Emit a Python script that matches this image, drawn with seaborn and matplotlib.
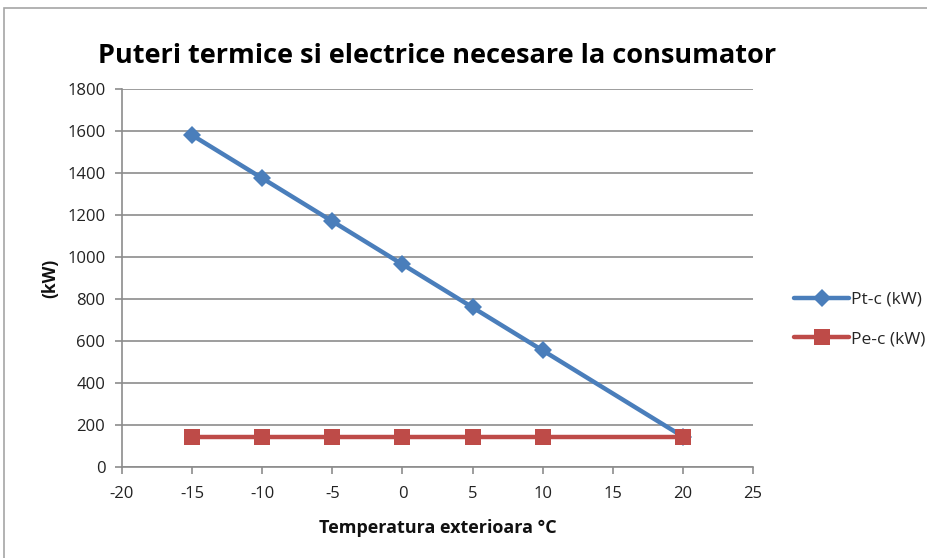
import matplotlib
matplotlib.use("Agg")
import matplotlib.pyplot as plt
import seaborn as sns
import pandas as pd
from matplotlib.patches import Rectangle

temps = [-15, -10, -5, 0, 5, 10, 20]
pt_c = [1580, 1375, 1170, 965, 760, 555, 145]
pe_c = [145, 145, 145, 145, 145, 145, 145]
series_names = ["Pt-c (kW)", "Pe-c (kW)"]
title = "Puteri termice si electrice necesare la consumator"
xlabel = "Temperatura exterioara \u00b0C"
ylabel = "(kW)"
xticks = [-20, -15, -10, -5, 0, 5, 10, 15, 20, 25]
yticks = [0, 200, 400, 600, 800, 1000, 1200, 1400, 1600, 1800]

df = pd.DataFrame({
    "T": temps * 2,
    "P": pt_c + pe_c,
    "Serie": [series_names[0]] * len(temps) + [series_names[1]] * len(temps),
})

sns.set_theme(style="white")
plt.rcParams["font.family"] = ["Open Sans", "DejaVu Sans"]

fig = plt.figure(figsize=(9.28, 5.58), dpi=100)
ax = fig.add_axes([0.1315, 0.1631, 0.6799, 0.6774])

fig.patches.append(Rectangle((4 / 928, -0.2), 1.2, 1.2 - 8 / 558, transform=fig.transFigure,
                             fill=False, edgecolor="#a6a6a6", linewidth=1.2, zorder=0))

palette = {series_names[0]: "#4a7ebb", series_names[1]: "#be4b48"}
markers = {series_names[0]: "D", series_names[1]: "s"}
sns.lineplot(data=df, x="T", y="P", hue="Serie", style="Serie", palette=palette,
             markers=markers, dashes=False, linewidth=3.2, markersize=9,
             markeredgewidth=0, ax=ax, legend=True)
for line in ax.get_lines():
    if line.get_marker() == "D":
        line.set_markersize(9)
    elif line.get_marker() == "s":
        line.set_markersize(11)

ax.set_xlim(-20, 25)
ax.set_ylim(0, 1800)
ax.set_xticks(xticks)
ax.set_yticks(yticks)
ax.set_xticklabels([str(v) for v in xticks], fontsize=12, color="#222222")
ax.set_yticklabels([str(v) for v in yticks], fontsize=12, color="#222222")
ax.yaxis.grid(True, color="#8c8c8c", linewidth=1.2)
ax.xaxis.grid(False)
ax.set_axisbelow(True)
for s in ["top", "right"]:
    ax.spines[s].set_visible(False)
for s in ["left", "bottom"]:
    ax.spines[s].set_color("#8c8c8c")
    ax.spines[s].set_linewidth(1.2)
ax.tick_params(axis="both", which="major", direction="out", length=5, width=1.2,
               color="#8c8c8c", bottom=True, left=True)
ax.tick_params(axis="x", pad=9)
ax.tick_params(axis="y", pad=7)

ax.set_xlabel(xlabel, fontsize=13, fontweight="bold", labelpad=12, color="#111111")
ax.set_ylabel(ylabel, fontsize=12.5, fontweight="bold", labelpad=6, color="#111111")
fig.text(437 / 928, 1 - 56 / 558, title, ha="center", va="center",
         fontsize=19.5, fontweight="bold", color="#000000")

leg = ax.legend(loc="center left", bbox_to_anchor=(1.04, 0.39), frameon=False,
                fontsize=12.5, handlelength=3.2, labelspacing=1.35, handletextpad=0.1,
                title=None)

fig.savefig("out.png", dpi=100)
